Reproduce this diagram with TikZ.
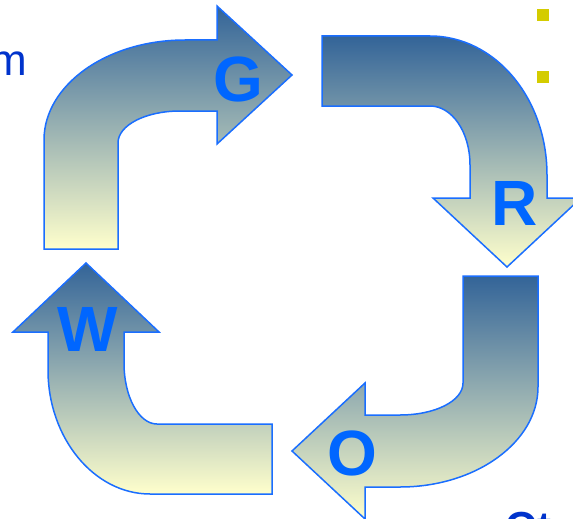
\documentclass[tikz,border=0pt]{standalone}
\usepackage{fontspec}
\setmainfont{Liberation Sans}
\definecolor{gtop}{RGB}{51,100,152}
\definecolor{gbot}{RGB}{255,255,204}
\definecolor{edgeblue}{RGB}{26,110,255}
\definecolor{letterblue}{RGB}{0,102,255}
\definecolor{textblue}{RGB}{0,51,204}
\definecolor{bulletyellow}{RGB}{212,204,0}
\tikzset{
  bentarrow/.style={draw=edgeblue, line width=1.5pt, line join=miter, top color=gtop, bottom color=gbot},
  letter/.style={text=letterblue, font=\fontsize{64}{64}\selectfont\bfseries, inner sep=0pt},
  bullet/.style={fill=bulletyellow, draw=none},
  bodytext/.style={text=textblue, inner sep=0pt}
}
\begin{document}
\begin{tikzpicture}[x=1pt,y=-1pt]
\useasboundingbox (0,0) rectangle (573,519);
\clip (0,0) rectangle (573,519);
\fill[white] (0,0) rectangle (573,519);

% G arrow (top left, pointing right)
\path[bentarrow] (44,249) -- (44,140) .. controls (44,85) and (107,40) .. (185,40)
  -- (217,40) -- (217,6) -- (292,75) -- (217,144) -- (217,111) -- (180,111)
  .. controls (146,111) and (118,125) .. (118,143) -- (118,249) -- cycle;

% R arrow (top right, pointing down)
\path[bentarrow] (322,36) -- (430,36) .. controls (495,36) and (547,98) .. (547,175)
  -- (547,198) -- (581,198) -- (507,267) -- (433,198) -- (470,198) -- (470,165)
  .. controls (470,132) and (452,106) .. (430,106) -- (322,106) -- cycle;

% O arrow (bottom right, pointing left)
\path[bentarrow] (463,276) -- (538,276) -- (538,387) .. controls (538,442) and (476,487) .. (400,487)
  -- (365,487) -- (365,519) -- (292,451) -- (365,383) -- (365,415) -- (400,415)
  .. controls (435,415) and (463,401) .. (463,383) -- cycle;

% W arrow (bottom left, pointing up)
\path[bentarrow] (86,263) -- (159,332) -- (124,332) -- (124,363)
  .. controls (124,397) and (139,424) .. (157,424) -- (272,424) -- (272,494) -- (150,494)
  .. controls (94,494) and (48,438) .. (48,370) -- (48,332) -- (13,332) -- cycle;

% letters
\node[letter] (g) at (238,79) {G};
\node[letter] (r) at (515,203) {R};
\node[letter] (o) at (352,453) {O};
\node[letter] (w) at (88,329) {W};

% cut-off texts
\node[bodytext, font=\fontsize{44}{44}\selectfont, anchor=base east] (m) at (27,75) {m};
\node[bodytext, font=\fontsize{42}{42}\selectfont\bfseries, anchor=base west] (ot) at (505,541) {Ot};

% bullets
\path[bullet] (537,9) rectangle (549,21);
\path[bullet] (537,71) rectangle (549,83);
\end{tikzpicture}
\end{document}
